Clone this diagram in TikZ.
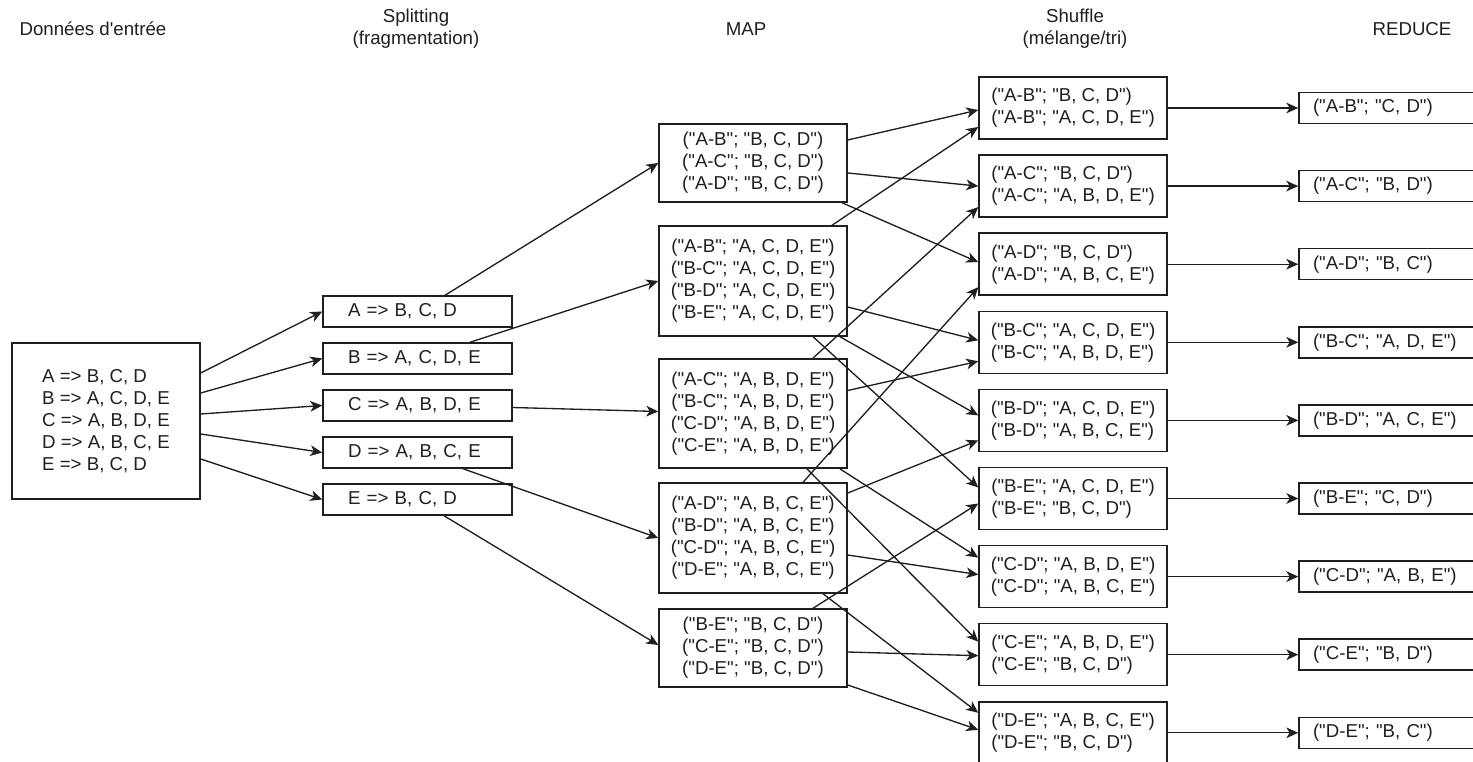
\documentclass[tikz,border=0pt]{standalone}
\usepackage{fontspec}
\setmainfont{Liberation Sans}[Ligatures=TeXOff]
\usetikzlibrary{arrows.meta,calc}

\begin{document}
\begin{tikzpicture}[x=0.75pt,y=-0.75pt,
  every node/.style={font=\fontsize{14}{16.5}\selectfont, text=black!88},
  box/.style={draw=black!88, line width=1.1pt, fill=white, inner sep=0pt, minimum width=141pt},
  inbox/.style={box, minimum height=117pt, align=left},
  splitbox/.style={box, minimum width=141.75pt, minimum height=23.25pt, text width=104.25pt, inner xsep=18.75pt, align=left},
  mapbox/.style={box, align=center},
  shufbox/.style={box, minimum height=46.5pt, align=left},
  redbox/.style={box, minimum height=23.25pt, text width=120pt, inner xsep=10.5pt, align=left},
  head/.style={align=center},
  link/.style={draw=black!88, line width=1pt, -{Stealth[length=9pt,width=8pt,inset=2.6pt]}}
]
\useasboundingbox (0,0) rectangle (1473,762);
\clip (0,0) rectangle (1473,762);

% column titles
\node[head] (h1) at (93,29) {Données d'entrée};
\node[head] (h2) at (416,29) {Splitting\\(fragmentation)};
\node[head] (h3) at (746,29) {MAP};
\node[head] (h4) at (1075,29) {Shuffle\\(mélange/tri)};
\node[head] (h5) at (1412,29) {REDUCE};

% input data
\node[inbox] (in) at (106,421) {A => B, C, D\\B => A, C, D, E\\C => A, B, D, E\\D => A, B, C, E\\E => B, C, D};

% splitting
\node[splitbox] (sA) at (417.5,311.5) {A => B, C, D};
\node[splitbox] (sB) at (417.5,358.5) {B => A, C, D, E};
\node[splitbox] (sC) at (417.5,405.5) {C => A, B, D, E};
\node[splitbox] (sD) at (417.5,452.5) {D => A, B, C, E};
\node[splitbox] (sE) at (417.5,499.5) {E => B, C, D};

% map
\node[mapbox, minimum height=58.5pt] (m1) at (753,163) {("A-B"; "B, C, D")\\("A-C"; "B, C, D")\\("A-D"; "B, C, D")};
\node[mapbox, minimum height=82.5pt] (m2) at (753,281) {("A-B"; "A, C, D, E")\\("B-C"; "A, C, D, E")\\("B-D"; "A, C, D, E")\\("B-E"; "A, C, D, E")};
\node[mapbox, minimum height=82pt] (m3) at (753,413.5) {("A-C"; "A, B, D, E")\\("B-C"; "A, B, D, E")\\("C-D"; "A, B, D, E")\\("C-E"; "A, B, D, E")};
\node[mapbox, minimum height=82.5pt] (m4) at (753,538) {("A-D"; "A, B, C, E")\\("B-D"; "A, B, C, E")\\("C-D"; "A, B, C, E")\\("D-E"; "A, B, C, E")};
\node[mapbox, minimum height=58.5pt] (m5) at (753,648) {("B-E"; "B, C, D")\\("C-E"; "B, C, D")\\("D-E"; "B, C, D")};

% shuffle
\node[shufbox] (k1) at (1073,108.0) {("A-B"; "B, C, D")\\("A-B"; "A, C, D, E")};
\node[shufbox] (k2) at (1073,186.1) {("A-C"; "B, C, D")\\("A-C"; "A, B, D, E")};
\node[shufbox] (k3) at (1073,264.2) {("A-D"; "B, C, D")\\("A-D"; "A, B, C, E")};
\node[shufbox] (k4) at (1073,342.3) {("B-C"; "A, C, D, E")\\("B-C"; "A, B, D, E")};
\node[shufbox] (k5) at (1073,420.4) {("B-D"; "A, C, D, E")\\("B-D"; "A, B, C, E")};
\node[shufbox] (k6) at (1073,498.5) {("B-E"; "A, C, D, E")\\("B-E"; "B, C, D")};
\node[shufbox] (k7) at (1073,576.6) {("C-D"; "A, B, D, E")\\("C-D"; "A, B, C, E")};
\node[shufbox] (k8) at (1073,654.7) {("C-E"; "A, B, D, E")\\("C-E"; "B, C, D")};
\node[shufbox] (k9) at (1073,732.8) {("D-E"; "A, B, C, E")\\("D-E"; "B, C, D")};

% reduce
\node[redbox] (r1) at (1393,108.0) {("A-B"; "C, D")};
\node[redbox] (r2) at (1393,186.1) {("A-C"; "B, D")};
\node[redbox] (r3) at (1393,264.2) {("A-D"; "B, C")};
\node[redbox] (r4) at (1393,342.3) {("B-C"; "A, D, E")};
\node[redbox] (r5) at (1393,420.4) {("B-D"; "A, C, E")};
\node[redbox] (r6) at (1393,498.5) {("B-E"; "C, D")};
\node[redbox] (r7) at (1393,576.6) {("C-D"; "A, B, E")};
\node[redbox] (r8) at (1393,654.7) {("C-E"; "B, D")};
\node[redbox] (r9) at (1393,732.8) {("D-E"; "B, C")};

% input -> splitting
\draw[link] ($(in.east)+(0,-48)$) -- (sA.west);
\draw[link] ($(in.east)+(0,-28)$) -- (sB.west);
\draw[link] ($(in.east)+(0,-7)$) -- (sC.west);
\draw[link] ($(in.east)+(0,13)$) -- (sD.west);
\draw[link] ($(in.east)+(0,38)$) -- (sE.west);

% splitting -> map
\draw[link] ($(sA.north)+(27.5,0)$) -- (m1.west);
\draw[link] ($(sB.north)+(52.5,0)$) -- (m2.west);
\draw[link] ($(sC.east)+(0,2)$) -- ($(m3.west)+(0,-2)$);
\draw[link] ($(sD.south)+(45.5,0)$) -- (m4.west);
\draw[link] ($(sE.south)+(26.5,0)$) -- ($(m5.west)+(0,-3)$);

% map -> shuffle
\draw[link] ($(m1.east)+(0,-23)$) -- ($(k1.west)+(0,2)$);
\draw[link] ($(m1.east)+(0,10)$) -- (k2.west);
\draw[link] ($(m1.south)+(89,0)$) -- ($(k3.west)+(0,-2)$);

\draw[link] ($(m2.north)+(79,0)$) -- ($(k1.west)+(0,19)$);
\draw[link] ($(m2.east)+(0,26)$) -- ($(k4.west)+(0,-2)$);
\draw[link] ($(m2.south)+(87,0)$) -- ($(k5.west)+(0,-5)$);
\draw[link] ($(m2.south)+(60,0)$) -- ($(k6.west)+(0,-11)$);

\draw[link] ($(m3.north)+(60,0)$) -- ($(k2.west)+(0,21)$);
\draw[link] ($(m3.east)+(0,-23)$) -- ($(k4.west)+(0,19)$);
\draw[link] ($(m3.south)+(87,0)$) -- ($(k7.west)+(0,-19)$);
\draw[link] ($(m3.south)+(54,0)$) -- ($(k8.west)+(0,-13)$);

\draw[link] ($(m4.north)+(50,0)$) -- ($(k3.west)+(0,23)$);
\draw[link] ($(m4.east)+(0,-45)$) -- ($(k5.west)+(0,20)$);
\draw[link] ($(m4.east)+(0,17)$) -- ($(k7.west)+(0,-2)$);
\draw[link] ($(m4.south)+(70,0)$) -- ($(k9.west)+(0,-20)$);

\draw[link] ($(m5.north)+(60,0)$) -- ($(k6.west)+(0,5)$);
\draw[link] ($(m5.east)+(0,4)$) -- ($(k8.west)+(0,1)$);
\draw[link] ($(m5.east)+(0,37)$) -- ($(k9.west)+(0,-3)$);

% shuffle -> reduce
\foreach \i in {1,...,9} {
  \draw[link] (k\i.east) -- (r\i.west);
}
\end{tikzpicture}
\end{document}
